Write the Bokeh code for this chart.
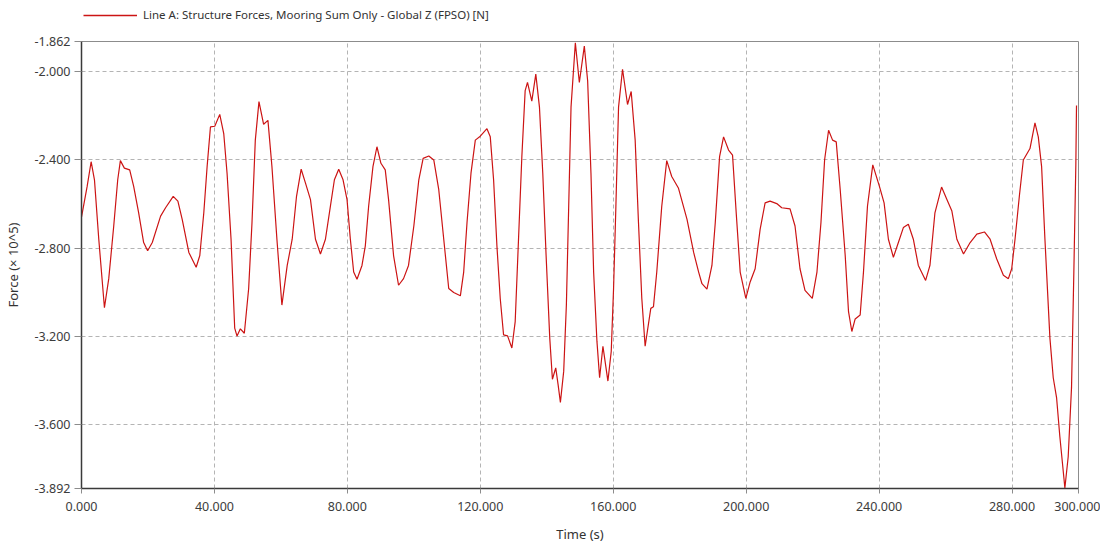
from bokeh.plotting import figure
from bokeh.layouts import column
from bokeh.models import Range1d, FixedTicker, PrintfTickFormatter, Legend, LegendItem
from bokeh.embed import file_html
from bokeh.resources import INLINE

time_s = [0.0, 1.7, 2.9, 3.9, 5.2, 6.9, 8.2, 9.7, 10.9, 11.7, 12.9, 14.5, 15.7, 17.2, 18.7,
          19.9, 21.3, 23.8, 25.3, 27.6, 29.0, 30.3, 32.3, 34.5, 35.6, 36.8, 37.8, 38.8,
          40.1, 41.6, 42.8, 43.8, 45.0, 46.1, 46.8, 47.8, 49.0, 50.3, 51.3, 52.3, 53.4,
          54.8, 56.1, 57.3, 58.8, 60.3,
          61.9, 63.4, 64.7, 66.1, 67.4, 68.9, 70.4, 71.9, 73.4, 74.9, 76.1, 77.4, 78.7,
          79.9, 80.9, 81.9, 82.9, 84.4, 85.4, 86.4, 87.7, 88.9, 90.1, 91.4, 92.4, 93.9,
          95.4, 96.9, 98.4, 100.0, 101.5, 102.8, 104.5, 106.0, 107.5, 109.0, 110.5,
          112.0, 114.0, 115.0, 116.0, 117.2, 118.5, 119.8,
          122.0, 123.0, 124.0, 125.0, 126.0, 127.0, 128.2, 129.5, 130.5, 131.5, 132.5,
          133.5, 134.2, 135.5, 136.7, 137.8, 138.8, 139.8, 140.9, 141.7, 142.7, 143.4,
          144.1, 145.1, 145.9, 146.6, 147.3, 148.6, 149.8, 151.3, 152.3, 153.3, 154.1,
          155.1, 155.9, 156.9, 157.4, 158.4, 159.4, 160.1, 160.8, 161.6, 162.8, 164.3,
          165.4, 166.6, 167.6, 168.6, 169.6, 171.3, 172.1, 173.1, 174.6, 176.1, 177.6,
          179.6,
          182.2, 184.2, 185.7, 186.7, 188.2, 189.7, 190.7, 192.0, 193.2, 194.7, 195.9,
          197.0, 198.2, 199.9, 201.2, 202.7, 204.2, 205.7, 207.2, 209.2, 210.7, 213.2,
          214.7, 216.2, 217.7, 219.9, 221.3, 222.5, 223.6, 224.8, 226.0, 227.1, 228.3,
          229.8, 230.8, 231.8, 232.8, 234.3, 235.3, 236.5, 238.1, 240.1,
          241.5, 242.8, 244.3, 245.8, 247.3, 248.8, 250.3, 251.8, 254.0, 255.3, 256.8,
          258.8, 260.4, 261.9, 263.4, 265.4, 267.4, 269.4, 271.7, 273.4, 275.4, 277.4,
          278.9, 279.9, 280.9, 282.2, 283.4, 285.4, 286.9, 287.9, 288.9, 289.9, 291.4,
          292.4, 293.4, 294.4, 295.9, 296.9, 297.9, 298.6, 299.2, 299.4]
force = [-2.66, -2.52, -2.408, -2.49, -2.76, -3.071, -2.939, -2.70, -2.49, -2.403, -2.437,
         -2.445, -2.52, -2.64, -2.775, -2.812, -2.775, -2.655, -2.617, -2.565, -2.587,
         -2.67, -2.82, -2.887, -2.834, -2.64, -2.43, -2.25, -2.247, -2.193, -2.28, -2.46,
         -2.76, -3.164, -3.20, -3.167, -3.187, -2.984, -2.685, -2.31, -2.135, -2.238,
         -2.22, -2.43, -2.76, -3.059,
         -2.879, -2.76, -2.565, -2.442, -2.505, -2.58, -2.76, -2.827, -2.76, -2.61, -2.49,
         -2.442, -2.49, -2.58, -2.76, -2.909, -2.942, -2.879, -2.79, -2.61, -2.43, -2.34,
         -2.415, -2.445, -2.58, -2.834, -2.969, -2.939, -2.879, -2.70, -2.49, -2.393,
         -2.382, -2.40, -2.535, -2.76, -2.984, -3.002, -3.017, -2.909, -2.685, -2.46,
         -2.31, -2.295,
         -2.258, -2.295, -2.49, -2.79, -3.029, -3.194, -3.199, -3.254, -3.134, -2.76,
         -2.385, -2.085, -2.048, -2.133, -2.01, -2.16, -2.46, -2.834, -3.209, -3.396,
         -3.344, -3.419, -3.501, -3.359, -3.059, -2.61, -2.16, -1.868, -2.048, -1.883,
         -2.04, -2.46, -2.909, -3.224, -3.389, -3.246, -3.299, -3.404, -3.269, -2.984,
         -2.61, -2.16, -1.988, -2.148, -2.089, -2.31, -2.685, -3.029, -3.246, -3.074,
         -3.067, -2.909, -2.61, -2.403, -2.475, -2.527,
         -2.67, -2.82, -2.909, -2.962, -2.987, -2.879, -2.685, -2.385, -2.295, -2.355,
         -2.378, -2.64, -2.909, -3.029, -2.954, -2.894, -2.715, -2.595, -2.587, -2.598,
         -2.617, -2.622, -2.70, -2.894, -2.992, -3.029, -2.909, -2.685, -2.40, -2.265,
         -2.31, -2.318, -2.535, -2.834, -3.089, -3.179, -3.122, -3.104, -2.909, -2.61,
         -2.422, -2.52,
         -2.595, -2.76, -2.842, -2.775, -2.707, -2.692, -2.76, -2.879, -2.947, -2.879,
         -2.64, -2.523, -2.58, -2.632, -2.76, -2.827, -2.775, -2.737, -2.727, -2.76,
         -2.85, -2.924, -2.939, -2.894, -2.76, -2.565, -2.40, -2.348, -2.232, -2.295,
         -2.43, -2.76, -3.209, -3.389, -3.479, -3.658, -3.89, -3.748, -3.434, -2.909,
         -2.422, -2.153]

x_ticks = [0, 40, 80, 120, 160, 200, 240, 280, 300]
y_ticks = [-3.892, -3.6, -3.2, -2.8, -2.4, -2.0, -1.862]
y_grid = [-3.6, -3.2, -2.8, -2.4, -2.0]
x_grid = [40, 80, 120, 160, 200, 240, 280]

series_label = "Line A: Structure Forces, Mooring Sum Only - Global Z (FPSO) [N]"
FONT = "Noto Sans"
LINE_COLOR = "#cc1414"

# ---- header strip holding the legend (its frame is aligned with the chart's) ----
hdr = figure(width=1100, height=24, output_backend="svg", toolbar_location=None,
             x_range=Range1d(1000, 1001), y_range=Range1d(0, 1),
             x_axis_type=None, y_axis_type=None,
             min_border=0, min_border_left=0, min_border_right=0,
             min_border_top=0, min_border_bottom=0)
hdr.title.visible = False
hdr.outline_line_color = None
hdr.xgrid.visible = False
hdr.ygrid.visible = False
key = hdr.line(time_s, force, line_color=LINE_COLOR, line_width=1.3)
legend = Legend(items=[LegendItem(label=series_label, renderers=[key])],
                location=(2, 2), orientation="horizontal",
                glyph_width=54, glyph_height=14, label_height=14,
                label_standoff=6, margin=0, padding=0, spacing=0,
                border_line_alpha=0, background_fill_alpha=0,
                label_text_font=FONT, label_text_font_size="11.5px",
                label_text_color="#333333")
hdr.add_layout(legend)

# ---- main chart ----
p = figure(width=1100, height=521, output_backend="svg", toolbar_location=None,
           x_range=Range1d(0, 300), y_range=Range1d(-3.892, -1.862),
           min_border_left=81, min_border_top=17, min_border_right=22,
           min_border_bottom=53)
p.title.visible = False
p.outline_line_color = "#8c8c8c"
p.outline_line_width = 1

p.line(time_s, force, line_color=LINE_COLOR, line_width=1.2)

for ax in (p.xaxis[0], p.yaxis[0]):
    ax.major_label_text_font = FONT
    ax.major_label_text_font_size = "12.5px"
    ax.major_label_text_color = "#3c3c3c"
    ax.axis_label_text_font = FONT
    ax.axis_label_text_font_size = "13px"
    ax.axis_label_text_font_style = "normal"
    ax.axis_label_text_color = "#333333"
    ax.axis_line_color = "#3a3a3a"
    ax.axis_line_width = 1.5
    ax.major_tick_line_color = "#8c8c8c"
    ax.major_tick_in = 0
    ax.minor_tick_line_color = None

p.xaxis[0].ticker = FixedTicker(ticks=x_ticks)
p.xaxis[0].formatter = PrintfTickFormatter(format="%.3f")
p.xaxis[0].axis_label = "Time (s)"
p.xaxis[0].major_tick_out = 5
p.xaxis[0].major_label_standoff = 8
p.xaxis[0].axis_label_standoff = 11

p.yaxis[0].ticker = FixedTicker(ticks=y_ticks)
p.yaxis[0].formatter = PrintfTickFormatter(format="%.3f")
p.yaxis[0].axis_label = "Force (× 10^5)"
p.yaxis[0].major_tick_out = 7
p.yaxis[0].major_label_standoff = 4
p.yaxis[0].axis_label_standoff = 10

p.xgrid[0].ticker = FixedTicker(ticks=x_grid)
p.ygrid[0].ticker = FixedTicker(ticks=y_grid)
for g in (p.xgrid[0], p.ygrid[0]):
    g.grid_line_color = "#b4b4b4"
    g.grid_line_dash = "4 3"
    g.grid_line_width = 1

layout = column(hdr, p, spacing=0)
open("out.html", "w").write(file_html(layout, INLINE))
